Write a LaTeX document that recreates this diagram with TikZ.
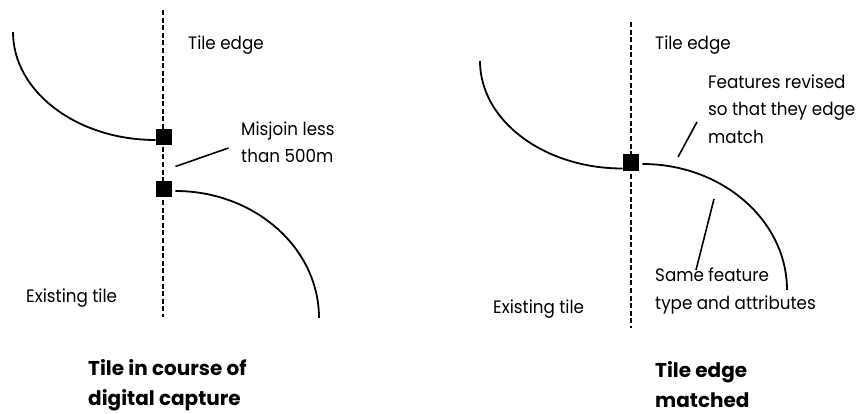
\documentclass[tikz,border=0pt]{standalone}
\usepackage{fontspec}
\setmainfont{Poppins}
\newfontfamily\labelfont{Poppins}[FakeStretch=0.93]
\usepackage{tikz}
\usetikzlibrary{positioning, calc}

\begin{document}
\begin{tikzpicture}[x=1pt, y=-1pt,
  tileedge/.style={line width=2pt, dash pattern=on 5pt off 2.6pt},
  feature/.style={line width=1.8pt},
  leader/.style={line width=1.6pt},
  vertex/.style={fill=black, minimum size=16.5pt, inner sep=0pt},
  lbl/.style={font=\labelfont\fontsize{18}{27.5}\selectfont, align=left, anchor=west, inner sep=0pt},
  caption/.style={lbl, font=\fontsize{20}{30}\selectfont\bfseries}]
\useasboundingbox (0,0) rectangle (860,414);
% left: tile in course of digital capture
\coordinate (edgeAtop) at (163,10);
\coordinate (edgeAbot) at (163,317);
\draw[tileedge] (edgeAtop) -- (edgeAbot);
\node[vertex] (sqA1) at (164,137) {};
\node[vertex] (sqA2) at (164,189) {};
\coordinate (featA1) at (13,32);
\coordinate (featA2) at (319,318);
\draw[feature] (featA1) .. controls (13,91.6) and (77,140) .. ([yshift=-3pt]sqA1.west);
\draw[feature] ([shift={(3pt,-2pt)}]sqA2.east) .. controls (254.5,191) and (319,247.9) .. (featA2);
\node[lbl] (edgeA) at (188,45) {Tile edge};
\node[lbl] (misjoin) at (241,142) {Misjoin less\\than 500m};
\coordinate (misA) at (175.5,166.5);
\coordinate (misB) at (228.5,148);
\draw[leader] (misA) -- (misB);
\node[lbl] (existA) at (26,298) {Existing tile};
\node[caption] (capA) at (88,385) {Tile in course of\\digital capture};
% right: tile edge matched
\coordinate (edgeBtop) at (631,22);
\coordinate (edgeBbot) at (631,328);
\draw[tileedge] (edgeBtop) -- (edgeBbot);
\node[vertex] (sqB) at (631,162.5) {};
\coordinate (featB1) at (480,61);
\coordinate (featB2) at (787,290);
\draw[feature] (featB1) .. controls (480,120.6) and (544,168.5) .. ([yshift=-6pt]sqB.west);
\draw[feature] ([shift={(3pt,-1.5pt)}]sqB.east) .. controls (722,164) and (787,220.4) .. (featB2);
\node[lbl] (edgeB) at (655,45) {Tile edge};
\node[lbl] (revised) at (708,109) {Features revised\\so that they edge\\match};
\coordinate (revA) at (678,157);
\coordinate (revB) at (697,122);
\draw[leader] (revA) -- (revB);
\node[lbl] (same) at (655,291) {Same feature\\type and attributes};
\coordinate (sameA) at (714,199);
\coordinate (sameB) at (696,270);
\draw[leader] (sameA) -- (sameB);
\node[lbl] (existB) at (493,309) {Existing tile};
\node[caption] (capB) at (655,385) {Tile edge\\matched};
\end{tikzpicture}
\end{document}
